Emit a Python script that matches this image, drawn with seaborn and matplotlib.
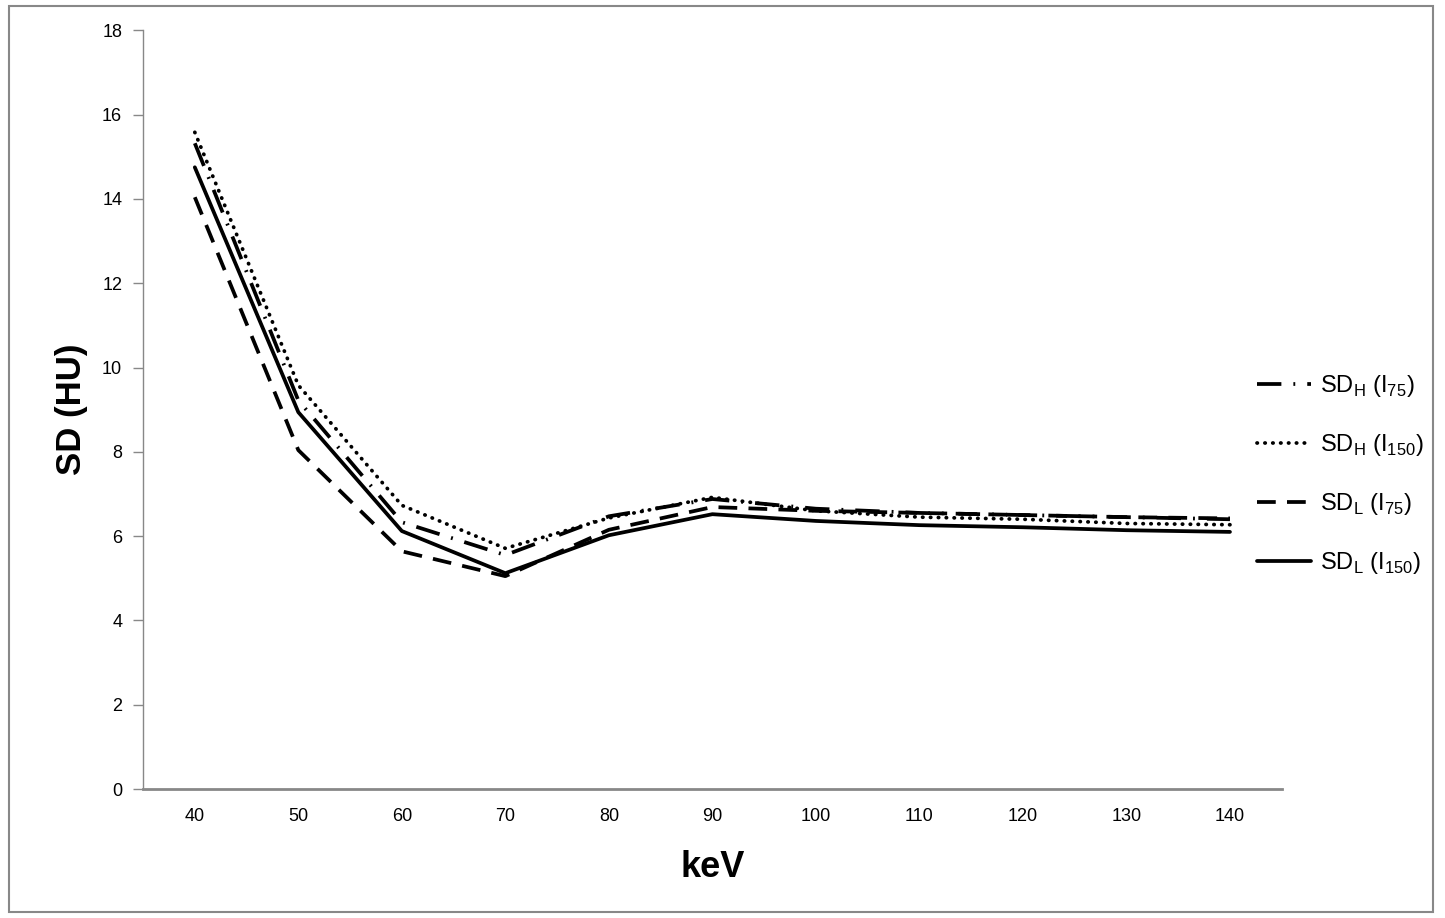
import numpy as np
import pandas as pd
import seaborn as sns
import matplotlib.pyplot as plt
from matplotlib.patches import Rectangle

kev = ['40', '50', '60', '70', '80', '90', '100', '110', '120', '130', '140']

sdh_i75 = [15.32, 9.22, 6.33, 5.55, 6.47, 6.88, 6.65, 6.55, 6.50, 6.45, 6.40]
sdh_i150 = [15.58, 9.58, 6.73, 5.71, 6.43, 6.92, 6.60, 6.45, 6.40, 6.30, 6.27]
sdl_i75 = [14.04, 8.04, 5.64, 5.05, 6.15, 6.69, 6.60, 6.55, 6.50, 6.45, 6.42]
sdl_i150 = [14.75, 8.94, 6.12, 5.12, 6.02, 6.52, 6.36, 6.26, 6.21, 6.14, 6.10]

labels = [r'SD$_\mathregular{H}$ (I$_\mathregular{75}$)',
          r'SD$_\mathregular{H}$ (I$_\mathregular{150}$)',
          r'SD$_\mathregular{L}$ (I$_\mathregular{75}$)',
          r'SD$_\mathregular{L}$ (I$_\mathregular{150}$)']

sns.set_style('white')
plt.rcParams['font.family'] = ['Liberation Sans', 'DejaVu Sans']
plt.rcParams['mathtext.fontset'] = 'custom'
plt.rcParams['mathtext.rm'] = 'Liberation Sans'
plt.rcParams['text.color'] = 'black'
plt.rcParams['axes.labelcolor'] = 'black'
plt.rcParams['xtick.color'] = 'black'
plt.rcParams['ytick.color'] = 'black'

fig = plt.figure(figsize=(14.45, 9.18), dpi=100)
ax = fig.add_axes([0.099, 0.1405, 0.788, 0.8265])

styles = [
    dict(linestyle=(0, (6.5, 3.2, 0.5, 3.2))),
    dict(linestyle=(0, (0.1, 2.0)), dash_capstyle='round'),
    dict(linestyle=(0, (5, 3))),
    dict(linestyle='-'),
]
series = [sdh_i75, sdh_i150, sdl_i75, sdl_i150]

for vals, lab, st in zip(series, labels, styles):
    sns.lineplot(x=kev, y=vals, ax=ax, color='black', linewidth=2.7,
                 label=lab, sort=False, **st)

ax.set_ylim(0, 18)
ax.set_yticks(np.arange(0, 19, 2))
ax.set_xlim(-0.5, len(kev) - 0.5)
ax.set_xticks(np.arange(-0.5, len(kev), 1), minor=True)
ax.tick_params(axis='x', which='major', length=0, pad=14, labelsize=13)
ax.tick_params(axis='x', which='minor', length=7, width=1, color='#888888', direction='out')
ax.tick_params(axis='y', length=7, width=1, color='#888888', direction='out', labelsize=13, pad=8)
ax.tick_params(bottom=True, left=True)

for side in ['top', 'right']:
    ax.spines[side].set_visible(False)
ax.spines['left'].set_color('#888888')
ax.spines['bottom'].set_color('#888888')
ax.spines['bottom'].set_linewidth(2)
ax.spines['left'].set_linewidth(1)

ax.set_xlabel('keV', fontsize=26, fontweight='bold', labelpad=18)
ax.set_ylabel('SD (HU)', fontsize=25, fontweight='bold', labelpad=10)

ax.legend(loc='center left', bbox_to_anchor=(0.855, 0.483), bbox_transform=fig.transFigure,
          frameon=False, fontsize=17, handlelength=2.3, labelspacing=1.4, handletextpad=0.4)

fig.patches.append(Rectangle((0.006, 0.006), 0.986, 0.987, transform=fig.transFigure,
                             fill=False, edgecolor='#888888', linewidth=1.5))

fig.savefig('out.png', dpi=100)
